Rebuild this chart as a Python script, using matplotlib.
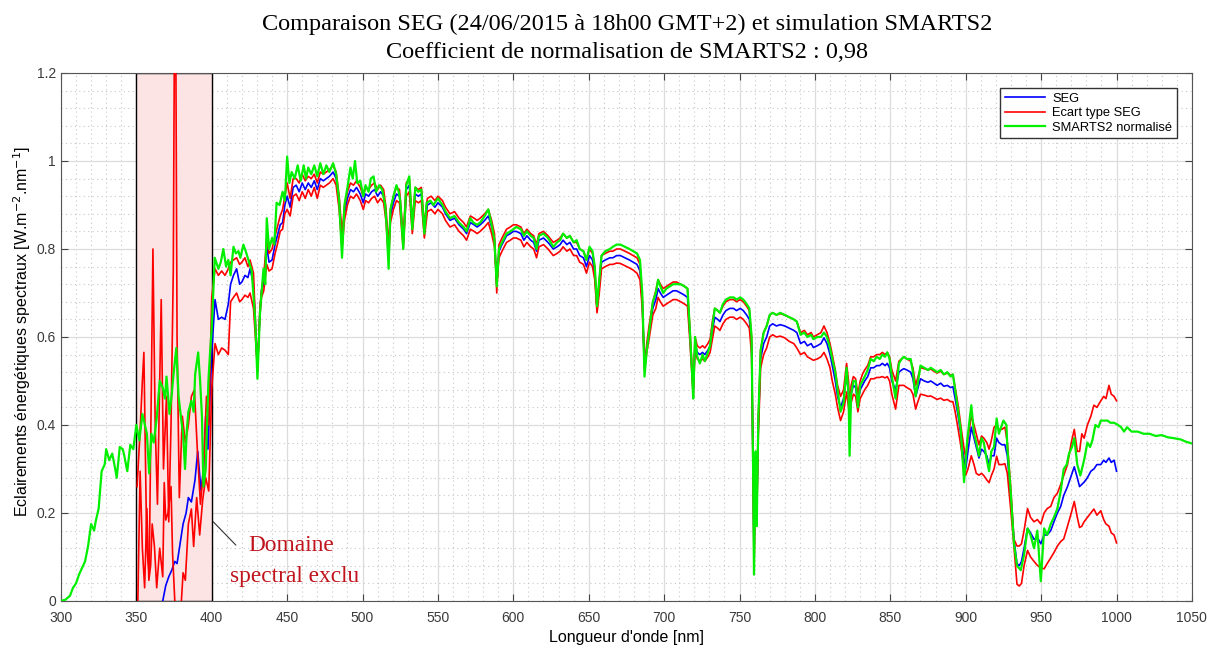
import numpy as np
import matplotlib
matplotlib.use("Agg")
import matplotlib.pyplot as plt
from matplotlib.ticker import MultipleLocator, FormatStrFormatter

# SMARTS2 normalise (vert)
wl_smarts = [
    300, 303, 306, 308, 310, 312, 314, 316, 318, 320, 322, 323, 325, 327, 329, 330, 332, 334, 336, 337,
    339, 341, 342, 344, 346, 348, 350, 352, 354, 355, 357, 358.5, 360, 361.5, 363.5, 365.5, 367.5, 369, 370, 372,
    373.5, 374.5, 376.5, 378, 380, 381, 382.3, 383.5, 384.5, 386.5, 388, 389, 391, 392.3, 393.5, 394.5, 396, 397.8, 398.8, 400,
    402, 404.4, 406, 407.7, 409.5, 411, 412.5, 414.4, 416, 417.7, 419, 421, 423, 424.3, 426.5, 428.8, 430.3, 432, 434.3, 435.5,
    436.5, 438, 440, 441.5, 443, 445, 447, 448.5, 450, 451.5, 453, 455, 457, 459, 461, 462.5, 464, 466, 468, 470,
    472, 474, 476, 478, 480.5, 482.5, 484.5, 486.4, 488, 490, 492, 493.5, 495, 496.5, 498.5, 500.5, 502, 504, 505.5, 507.3,
    509, 511, 513, 515, 516, 517.3, 518.5, 520.5, 522.5, 524, 525, 527, 529, 531, 533, 535, 537, 539, 541, 542.5,
    545, 547, 550, 553, 555, 558, 561, 564, 567, 569, 571.5, 573.5, 576, 578, 581, 583.4, 585.6, 587.5, 589, 590.5,
    592.5, 595.5, 598, 600, 602, 605, 607, 609, 611.5, 613.5, 615.4, 617, 620, 623, 626.5, 629, 631, 633, 635.5, 637.5,
    640, 642, 644, 646.5, 648.5, 650.5, 652.5, 654, 655.5, 657, 658.5, 661, 664, 666, 668.5, 671, 674, 677, 679.5, 682,
    684, 685.5, 687, 688.5, 690, 692.5, 694.5, 696, 697.5, 699.4, 701.5, 703.8, 706, 708.2, 711, 713.5, 715.5, 717, 718.5, 719.3,
    720.5, 722, 723.7, 725.5, 727, 729, 730.5, 732, 733.6, 735.5, 737, 739, 741, 743.6, 746, 748, 750.5, 752.5, 754.7, 756.5,
    758, 759, 759.6, 760.7, 761.4, 762.5, 764, 766, 768, 770, 772, 774.5, 777, 780, 783, 786, 788, 790.5, 793, 795,
    797.5, 799, 801.5, 804, 806, 808, 810, 811.5, 813.5, 815, 817, 819, 821, 822.3, 823, 824, 825.5, 827, 828.5, 830,
    831.5, 833, 835, 837, 839, 841, 843, 844.7, 846.5, 848, 849.5, 851, 853.5, 855.7, 857.5, 859, 861, 863.5, 865, 866.8,
    868, 870, 872.5, 875, 876.8, 879, 881, 883.4, 885.5, 887.8, 890, 891.5, 893, 895, 896.7, 898.9, 901, 903.7, 905.5, 907,
    908.8, 910.5, 912, 914, 915.5, 917, 918.8, 920.5, 922, 923, 925, 927, 927.6, 929.8, 932, 934, 936.5, 938.7, 941, 943,
    945.3, 947.5, 949.8, 952, 954, 956.4, 958.5, 960.8, 963, 965, 967, 968.5, 970.5, 972, 974, 976, 978.5, 980.7, 982.5, 984,
    986, 988, 989.6, 992, 994, 996, 998.4, 1001, 1003, 1005, 1007, 1010, 1014, 1018, 1022, 1026, 1030, 1034, 1038, 1042.7,
    1046, 1050]
smarts = [
    0.0, 0.003, 0.012, 0.03, 0.04, 0.06, 0.075, 0.09, 0.125, 0.175, 0.16, 0.18, 0.21, 0.295, 0.31, 0.345, 0.32, 0.335, 0.30, 0.28,
    0.35, 0.345, 0.33, 0.295, 0.355, 0.345, 0.40, 0.365, 0.425, 0.41, 0.38, 0.29, 0.38, 0.36, 0.415, 0.50, 0.485, 0.46, 0.51, 0.425,
    0.47, 0.51, 0.575, 0.465, 0.405, 0.38, 0.30, 0.39, 0.43, 0.455, 0.43, 0.515, 0.565, 0.50, 0.42, 0.26, 0.30, 0.50, 0.56, 0.62,
    0.78, 0.755, 0.77, 0.80, 0.76, 0.775, 0.74, 0.805, 0.79, 0.795, 0.78, 0.81, 0.79, 0.775, 0.75, 0.64, 0.505, 0.655, 0.755, 0.72,
    0.87, 0.80, 0.825, 0.81, 0.905, 0.90, 0.93, 0.91, 1.01, 0.95, 0.975, 0.96, 0.99, 0.955, 0.99, 0.96, 0.985, 0.97, 0.99, 0.965,
    0.995, 0.97, 0.99, 0.975, 0.995, 0.97, 0.91, 0.78, 0.90, 0.94, 0.985, 0.96, 1.0, 0.95, 0.955, 0.92, 0.945, 0.93, 0.96, 0.965,
    0.93, 0.945, 0.935, 0.90, 0.85, 0.755, 0.89, 0.92, 0.945, 0.93, 0.91, 0.80, 0.945, 0.965, 0.845, 0.94, 0.93, 0.935, 0.835, 0.905,
    0.91, 0.90, 0.915, 0.90, 0.885, 0.87, 0.875, 0.86, 0.85, 0.84, 0.87, 0.86, 0.855, 0.86, 0.875, 0.89, 0.855, 0.82, 0.715, 0.80,
    0.815, 0.835, 0.84, 0.845, 0.85, 0.845, 0.83, 0.84, 0.83, 0.825, 0.80, 0.83, 0.835, 0.825, 0.805, 0.815, 0.82, 0.835, 0.825, 0.83,
    0.815, 0.82, 0.80, 0.795, 0.775, 0.805, 0.795, 0.76, 0.67, 0.73, 0.785, 0.795, 0.80, 0.805, 0.81, 0.81, 0.805, 0.80, 0.795, 0.79,
    0.775, 0.70, 0.51, 0.57, 0.61, 0.68, 0.70, 0.73, 0.715, 0.70, 0.71, 0.715, 0.72, 0.72, 0.72, 0.715, 0.71, 0.62, 0.52, 0.46,
    0.60, 0.555, 0.54, 0.56, 0.545, 0.565, 0.58, 0.625, 0.665, 0.66, 0.655, 0.675, 0.685, 0.69, 0.69, 0.685, 0.69, 0.685, 0.675, 0.665,
    0.60, 0.30, 0.06, 0.34, 0.17, 0.42, 0.57, 0.61, 0.625, 0.65, 0.655, 0.65, 0.655, 0.65, 0.645, 0.64, 0.635, 0.605, 0.61, 0.60,
    0.605, 0.595, 0.60, 0.60, 0.61, 0.60, 0.575, 0.55, 0.52, 0.48, 0.43, 0.45, 0.53, 0.47, 0.33, 0.47, 0.50, 0.50, 0.44, 0.49,
    0.50, 0.51, 0.525, 0.55, 0.545, 0.555, 0.55, 0.56, 0.555, 0.565, 0.55, 0.51, 0.46, 0.54, 0.55, 0.555, 0.55, 0.55, 0.52, 0.465,
    0.49, 0.535, 0.53, 0.525, 0.53, 0.525, 0.52, 0.525, 0.515, 0.52, 0.51, 0.515, 0.48, 0.43, 0.39, 0.27, 0.365, 0.445, 0.38, 0.36,
    0.33, 0.37, 0.36, 0.32, 0.295, 0.34, 0.35, 0.415, 0.38, 0.39, 0.41, 0.40, 0.35, 0.25, 0.13, 0.08, 0.07, 0.105, 0.165, 0.15,
    0.12, 0.16, 0.045, 0.165, 0.15, 0.175, 0.19, 0.21, 0.25, 0.30, 0.31, 0.335, 0.35, 0.37, 0.31, 0.285, 0.32, 0.36, 0.35, 0.365,
    0.40, 0.395, 0.41, 0.41, 0.41, 0.405, 0.405, 0.40, 0.395, 0.385, 0.395, 0.385, 0.385, 0.38, 0.38, 0.375, 0.377, 0.372, 0.37, 0.367,
    0.362, 0.358]

# SEG moyen (bleu)
wl_seg = [
    367.5, 369.5, 371.5, 373.5, 375.5, 377, 379, 381, 383, 384.5, 386.5, 388.9, 390.7, 392.9, 394.5, 396, 397.5, 400, 402.2, 404.4,
    406.6, 408.8, 411, 412.5, 414.4, 416.5, 418.5, 420, 422, 424, 425.4, 427.7, 430.3, 432, 433, 434.5, 436.5, 438, 440, 442,
    443.5, 445.4, 447, 448.5, 450, 452, 454, 456, 458, 460, 462, 464, 466, 468, 470, 472, 474, 476, 478, 480.5,
    482.5, 484.5, 486.4, 488, 490, 492, 494, 496, 498.5, 500.5, 502, 504, 506, 508, 510, 512, 514, 515.5, 517.3, 518.5,
    520.5, 522.5, 524.5, 527, 529, 531, 533, 535, 537, 539, 541, 543, 545.5, 548, 550, 553, 555, 558, 561, 564,
    567, 569, 571.5, 574, 576, 578, 581, 583.4, 585.6, 587.5, 589, 590.5, 592.5, 595.5, 598, 600, 602, 605, 607, 609,
    611.5, 613.5, 615.4, 617, 620, 623, 626.5, 629, 631, 633, 635.5, 637.5, 640, 642, 644, 646.5, 648.5, 650.5, 652.5, 654,
    655.5, 657, 658.5, 661, 664, 666, 668.5, 671, 674, 677, 679.5, 682, 684, 685.5, 687, 688.5, 690, 692.5, 694.5, 696,
    697.5, 699.4, 701.5, 703.8, 706, 708.2, 711, 713.5, 715.5, 717, 718.5, 719.3, 720.5, 722, 723.7, 725.5, 727, 729, 730.5, 732,
    733.6, 735.5, 737, 739, 741, 743.6, 746, 748, 750.5, 752.5, 754.7, 756.5, 758, 759, 759.6, 760.7, 761.4, 762.5, 764, 766,
    768, 770, 772, 774.5, 777, 780, 783, 786, 788, 790.5, 793, 795, 797.5, 799, 801.5, 804, 806, 808, 810, 811.5,
    813.5, 815, 817, 819, 821, 822.3, 823, 824, 825.5, 827, 828.5, 830, 831.5, 833, 835, 837, 839, 841, 843, 844.7,
    846.5, 848, 849.5, 851, 853.5, 855.7, 857.5, 859, 861, 863.5, 865, 866.8, 868, 870, 872.5, 875, 876.8, 879, 881, 883.4,
    885.5, 887.8, 890, 891.5, 893, 895, 896.7, 898.5, 900, 901.5, 903.7, 905.5, 907, 908.8, 910.5, 912, 914, 915.5, 917, 918.8,
    920.5, 922, 924, 926, 927.6, 929.8, 932, 934, 935.5, 937, 938.7, 941, 943, 945.3, 947.5, 949.8, 952, 954, 956.4, 958.5,
    960.8, 963, 965, 967.5, 970, 972, 974, 975.5, 977, 978.5, 980.7, 983, 985, 987, 989.6, 991.5, 993, 995, 996.5, 998.4,
    1000]
seg = [
    0.0, 0.035, 0.055, 0.07, 0.09, 0.085, 0.13, 0.175, 0.20, 0.235, 0.225, 0.275, 0.34, 0.25, 0.30, 0.42, 0.345, 0.565, 0.685, 0.64,
    0.645, 0.64, 0.675, 0.72, 0.74, 0.755, 0.72, 0.725, 0.74, 0.735, 0.755, 0.72, 0.525, 0.66, 0.705, 0.72, 0.805, 0.77, 0.775, 0.81,
    0.83, 0.855, 0.86, 0.90, 0.92, 0.895, 0.94, 0.945, 0.93, 0.95, 0.935, 0.95, 0.94, 0.955, 0.935, 0.96, 0.955, 0.96, 0.965, 0.975,
    0.96, 0.905, 0.82, 0.88, 0.915, 0.935, 0.93, 0.94, 0.925, 0.905, 0.925, 0.92, 0.93, 0.935, 0.92, 0.93, 0.92, 0.88, 0.79, 0.875,
    0.905, 0.925, 0.92, 0.815, 0.935, 0.945, 0.85, 0.925, 0.92, 0.925, 0.84, 0.90, 0.905, 0.895, 0.905, 0.895, 0.88, 0.865, 0.87, 0.855,
    0.845, 0.835, 0.86, 0.855, 0.85, 0.855, 0.865, 0.875, 0.85, 0.82, 0.72, 0.795, 0.81, 0.83, 0.835, 0.84, 0.84, 0.835, 0.82, 0.83,
    0.82, 0.815, 0.795, 0.82, 0.825, 0.815, 0.80, 0.805, 0.81, 0.82, 0.81, 0.815, 0.80, 0.80, 0.785, 0.78, 0.76, 0.785, 0.775, 0.745,
    0.665, 0.715, 0.77, 0.775, 0.78, 0.78, 0.785, 0.785, 0.78, 0.775, 0.77, 0.765, 0.75, 0.68, 0.53, 0.575, 0.61, 0.665, 0.685, 0.71,
    0.70, 0.69, 0.695, 0.70, 0.705, 0.705, 0.70, 0.695, 0.69, 0.61, 0.52, 0.475, 0.585, 0.565, 0.56, 0.565, 0.56, 0.57, 0.58, 0.615,
    0.645, 0.64, 0.635, 0.65, 0.66, 0.665, 0.665, 0.66, 0.665, 0.66, 0.65, 0.64, 0.58, 0.30, 0.10, 0.30, 0.20, 0.40, 0.55, 0.585,
    0.60, 0.625, 0.63, 0.625, 0.628, 0.625, 0.62, 0.615, 0.61, 0.585, 0.59, 0.58, 0.585, 0.576, 0.58, 0.585, 0.598, 0.585, 0.56, 0.535,
    0.50, 0.465, 0.44, 0.46, 0.515, 0.47, 0.40, 0.47, 0.49, 0.485, 0.45, 0.48, 0.49, 0.50, 0.51, 0.53, 0.53, 0.535, 0.535, 0.54,
    0.535, 0.54, 0.53, 0.50, 0.48, 0.52, 0.525, 0.528, 0.525, 0.52, 0.505, 0.465, 0.48, 0.505, 0.50, 0.497, 0.50, 0.495, 0.49, 0.495,
    0.488, 0.49, 0.485, 0.487, 0.46, 0.42, 0.38, 0.33, 0.30, 0.34, 0.395, 0.37, 0.35, 0.325, 0.345, 0.34, 0.33, 0.31, 0.33, 0.33,
    0.37, 0.36, 0.355, 0.355, 0.33, 0.24, 0.14, 0.085, 0.08, 0.09, 0.12, 0.165, 0.155, 0.14, 0.145, 0.13, 0.15, 0.15, 0.16, 0.18,
    0.20, 0.215, 0.24, 0.26, 0.285, 0.305, 0.28, 0.26, 0.265, 0.27, 0.28, 0.295, 0.30, 0.31, 0.31, 0.32, 0.315, 0.325, 0.315, 0.32,
    0.295]

# ecart type SEG, borne haute (rouge) ; meme grille que SEG a partir de 400 nm
wl_std_hi = [
    350.5, 352.4, 354, 355, 356.9, 358.5, 361, 362.5, 364, 366.5, 368, 370, 371.5, 373, 374.5, 375.2, 376.2, 377, 378.5, 380.5,
    382.5, 384.5, 386.5, 388.5, 390.5, 392.5, 394.5, 396.5, 398] + wl_seg[17:]
std_hi = [
    0.26, 0.38, 0.50, 0.565, 0.125, 0.06, 0.80, 0.40, 0.22, 0.685, 0.30, 0.465, 0.18, 0.40, 0.75, 1.25, 1.25, 0.60, 0.235, 0.42,
    0.36, 0.40, 0.465, 0.48, 0.34, 0.22, 0.295, 0.465, 0.40,
    # 400 -> 1000
    0.69, 0.755, 0.74, 0.75, 0.74, 0.755, 0.77, 0.775, 0.78, 0.765, 0.77, 0.78, 0.76, 0.775, 0.745, 0.52, 0.67, 0.705, 0.74, 0.825, 0.79,
    0.80, 0.83, 0.85, 0.875, 0.89, 0.92, 0.95, 0.915, 0.96, 0.96, 0.95, 0.97, 0.955, 0.965, 0.96, 0.97, 0.95, 0.975, 0.97, 0.975,
    0.98, 0.99, 0.975, 0.92, 0.835, 0.895, 0.93, 0.95, 0.945, 0.955, 0.94, 0.92, 0.94, 0.935, 0.945, 0.95, 0.935, 0.945, 0.935, 0.895,
    0.805, 0.89, 0.92, 0.94, 0.935, 0.83, 0.95, 0.96, 0.865, 0.94, 0.935, 0.94, 0.855, 0.915, 0.92, 0.91, 0.92, 0.91, 0.895, 0.88,
    0.885, 0.87, 0.86, 0.85, 0.875, 0.87, 0.865, 0.87, 0.88, 0.89, 0.865, 0.835, 0.70, 0.81, 0.825, 0.845, 0.85, 0.855, 0.855, 0.85,
    0.835, 0.845, 0.835, 0.83, 0.81, 0.835, 0.84, 0.83, 0.815, 0.82, 0.825, 0.835, 0.825, 0.83, 0.815, 0.815, 0.80, 0.795, 0.775, 0.80,
    0.79, 0.76, 0.66, 0.73, 0.785, 0.79, 0.795, 0.795, 0.80, 0.80, 0.795, 0.79, 0.785, 0.78, 0.765, 0.69, 0.535, 0.585, 0.625, 0.68,
    0.705, 0.73, 0.72, 0.71, 0.715, 0.72, 0.725, 0.725, 0.72, 0.715, 0.71, 0.625, 0.53, 0.485, 0.60, 0.58, 0.575, 0.58, 0.575, 0.585,
    0.595, 0.635, 0.665, 0.66, 0.655, 0.67, 0.68, 0.685, 0.685, 0.68, 0.685, 0.68, 0.67, 0.66, 0.60, 0.32, 0.13, 0.32, 0.22, 0.42,
    0.57, 0.61, 0.625, 0.65, 0.655, 0.65, 0.653, 0.65, 0.645, 0.64, 0.635, 0.61, 0.615, 0.605, 0.61, 0.60, 0.605, 0.61, 0.625, 0.61,
    0.585, 0.56, 0.525, 0.49, 0.465, 0.48, 0.54, 0.50, 0.43, 0.49, 0.51, 0.505, 0.47, 0.50, 0.515, 0.525, 0.535, 0.555, 0.555, 0.56,
    0.56, 0.565, 0.56, 0.565, 0.555, 0.525, 0.50, 0.545, 0.55, 0.555, 0.55, 0.545, 0.53, 0.49, 0.505, 0.53, 0.528, 0.525, 0.527, 0.522,
    0.518, 0.522, 0.515, 0.518, 0.513, 0.515, 0.485, 0.445, 0.40, 0.355, 0.325, 0.37, 0.42, 0.40, 0.38, 0.355, 0.375, 0.37, 0.36, 0.345,
    0.365, 0.395, 0.40, 0.39, 0.39, 0.395, 0.36, 0.26, 0.14, 0.125, 0.125, 0.13, 0.16, 0.21, 0.19, 0.18, 0.185, 0.175, 0.20, 0.21,
    0.215, 0.235, 0.245, 0.265, 0.285, 0.31, 0.36, 0.39, 0.34, 0.34, 0.38, 0.37, 0.40, 0.42, 0.445, 0.44, 0.455, 0.465, 0.46, 0.49,
    0.47, 0.465, 0.455]

# ecart type SEG, borne basse (rouge)
wl_std_lo = [
    350.5, 352.5, 354, 355.5, 357, 358.3, 359.5, 360.5, 362, 363.5, 365.5, 367.5, 368.5, 369.5, 371, 373, 374, 375.5, 377, 379,
    381, 382.5, 384.5, 386.5, 388, 390, 392, 394, 396, 398] + wl_seg[17:]
std_lo = [
    -0.1, 0.295, 0.12, 0.03, 0.21, 0.047, 0.081, 0.175, 0.124, 0.03, 0.12, 0.055, 0.269, 0.184, 0.20, 0.26, 0.11, 0.0, -0.05, -0.05,
    0.064, 0.047, 0.175, 0.209, 0.124, 0.235, 0.15, 0.23, 0.28, 0.25,
    # 400 -> 1000
    0.483, 0.585, 0.56, 0.575, 0.57, 0.56, 0.68, 0.69, 0.70, 0.68, 0.685, 0.695, 0.69, 0.70, 0.665, 0.53, 0.65, 0.69, 0.705, 0.765,
    0.75, 0.755, 0.79, 0.81, 0.84, 0.845, 0.88, 0.89, 0.875, 0.92, 0.925, 0.91, 0.93, 0.915, 0.935, 0.92, 0.94, 0.915, 0.945, 0.94,
    0.945, 0.95, 0.96, 0.945, 0.89, 0.80, 0.865, 0.90, 0.92, 0.915, 0.925, 0.91, 0.89, 0.91, 0.905, 0.915, 0.92, 0.905, 0.915, 0.905,
    0.865, 0.775, 0.86, 0.89, 0.91, 0.905, 0.80, 0.92, 0.93, 0.835, 0.91, 0.905, 0.91, 0.825, 0.885, 0.89, 0.88, 0.89, 0.88, 0.865,
    0.85, 0.855, 0.84, 0.83, 0.82, 0.845, 0.84, 0.835, 0.84, 0.85, 0.86, 0.835, 0.805, 0.72, 0.78, 0.795, 0.815, 0.82, 0.825, 0.825,
    0.82, 0.805, 0.815, 0.805, 0.80, 0.78, 0.805, 0.81, 0.80, 0.785, 0.79, 0.795, 0.805, 0.795, 0.80, 0.785, 0.785, 0.77, 0.765, 0.745,
    0.77, 0.76, 0.73, 0.655, 0.70, 0.755, 0.76, 0.765, 0.765, 0.768, 0.767, 0.762, 0.757, 0.752, 0.745, 0.73, 0.665, 0.525, 0.565, 0.595,
    0.65, 0.665, 0.69, 0.68, 0.67, 0.675, 0.68, 0.685, 0.685, 0.68, 0.675, 0.67, 0.595, 0.51, 0.465, 0.57, 0.55, 0.545, 0.55, 0.545,
    0.555, 0.565, 0.595, 0.625, 0.62, 0.615, 0.63, 0.64, 0.645, 0.645, 0.64, 0.645, 0.64, 0.63, 0.62, 0.56, 0.28, 0.07, 0.28, 0.18,
    0.38, 0.53, 0.56, 0.575, 0.60, 0.605, 0.60, 0.602, 0.598, 0.59, 0.585, 0.575, 0.56, 0.565, 0.555, 0.55, 0.547, 0.55, 0.555, 0.565,
    0.55, 0.53, 0.50, 0.47, 0.44, 0.41, 0.43, 0.475, 0.44, 0.43, 0.45, 0.47, 0.465, 0.43, 0.46, 0.47, 0.48, 0.49, 0.505, 0.505,
    0.508, 0.508, 0.51, 0.507, 0.51, 0.50, 0.47, 0.436, 0.49, 0.49, 0.49, 0.485, 0.48, 0.47, 0.436, 0.45, 0.47, 0.468, 0.465, 0.466,
    0.462, 0.458, 0.461, 0.456, 0.458, 0.453, 0.453, 0.43, 0.39, 0.354, 0.31, 0.286, 0.30, 0.33, 0.31, 0.29, 0.286, 0.29, 0.285, 0.275,
    0.269, 0.285, 0.30, 0.329, 0.31, 0.31, 0.312, 0.29, 0.21, 0.124, 0.038, 0.034, 0.04, 0.08, 0.115, 0.10, 0.09, 0.081, 0.075, 0.073,
    0.085, 0.098, 0.11, 0.125, 0.135, 0.141, 0.17, 0.20, 0.226, 0.19, 0.167, 0.17, 0.18, 0.19, 0.20, 0.209, 0.195, 0.205, 0.185, 0.175,
    0.17, 0.155, 0.15, 0.132]

excl_lo, excl_hi = 350, 400

plt.rcParams['font.family'] = ['Liberation Sans', 'DejaVu Sans']

fig = plt.figure(figsize=(12.14, 6.46), dpi=100)
ax = fig.add_axes([0.0502, 0.0697, 0.9316, 0.8173])

# domaine spectral exclu
ax.axvspan(excl_lo, excl_hi, ymin=0, ymax=1, facecolor='#fde4e4', edgecolor='black',
           linewidth=1.0, zorder=1)

ax.plot(wl_seg, seg, color='#0000ff', lw=1.2, label='SEG', zorder=3)
ax.plot(wl_std_hi, std_hi, color='#ff0000', lw=1.2, label='Ecart type SEG', zorder=3)
ax.plot(wl_std_lo, std_lo, color='#ff0000', lw=1.2, zorder=3)
ax.plot(wl_smarts, smarts, color='#00f000', lw=1.6, label='SMARTS2 normalisé', zorder=4)

ax.set_xlim(300, 1050)
ax.set_ylim(0, 1.2)
ax.xaxis.set_major_locator(MultipleLocator(50))
ax.xaxis.set_minor_locator(MultipleLocator(10))
ax.yaxis.set_major_locator(MultipleLocator(0.2))
ax.yaxis.set_minor_locator(MultipleLocator(0.04))
ax.yaxis.set_major_formatter(FormatStrFormatter('%g'))

ax.grid(which='major', color='#dcdcdc', lw=0.9, ls='-')
ax.grid(which='minor', color='#c8c8c8', lw=0.8, ls=(0, (1, 3)))
ax.set_axisbelow(True)
ax.tick_params(which='major', direction='in', length=5, top=True, right=True,
               labelsize=10, color='#444444', labelcolor='#3a3a3a')
ax.tick_params(axis='x', which='major', pad=7)
ax.tick_params(which='minor', length=0)
for s in ax.spines.values():
    s.set_color('#555555')

ax.set_xlabel("Longueur d'onde [nm]", fontsize=11.5)
ax.set_ylabel("Eclairements énergétiques spectraux [W.m$^{-2}$.nm$^{-1}$]", fontsize=11.5)
ax.xaxis.set_label_coords(0.5, -0.055)
ax.yaxis.set_label_coords(-0.0243, 0.511)

fig.text(0.5165, 0.962, "Comparaison SEG (24/06/2015 à 18h00 GMT+2) et simulation SMARTS2",
         ha='center', va='center', fontsize=17.5, family='Liberation Serif')
fig.text(0.5165, 0.918, "Coefficient de normalisation de SMARTS2 : 0,98",
         ha='center', va='center', fontsize=17.5, family='Liberation Serif')

# annotation du domaine exclu
ax.annotate("", xy=(401, 0.18), xytext=(416, 0.127),
            arrowprops=dict(arrowstyle='-', color='#333333', lw=0.8,
                            shrinkA=0, shrinkB=0))
ax.text(453, 0.127, "Domaine", ha='center', va='center', fontsize=16.8,
        color='#c0141c', family='Liberation Serif')
ax.text(455, 0.0545, "spectral exclu", ha='center', va='center', fontsize=16.8,
        color='#c0141c', family='Liberation Serif')

leg = ax.legend(loc='upper right', bbox_to_anchor=(0.9867, 0.9716), borderaxespad=0,
                fontsize=9.3, fancybox=False, edgecolor='#333333', framealpha=1,
                handlelength=3.1, handletextpad=0.6, borderpad=0.35, labelspacing=0.2)
leg.get_frame().set_linewidth(1.0)

fig.savefig('out.png', dpi=100)
